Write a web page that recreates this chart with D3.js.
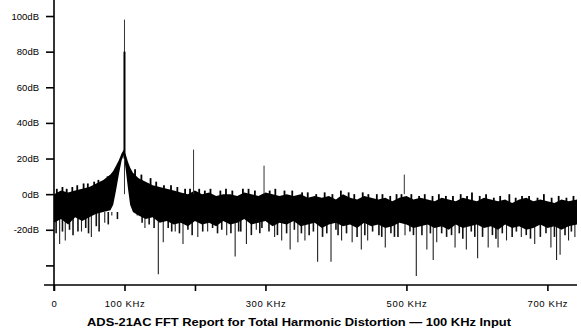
<!DOCTYPE html>
<html>
<head>
<meta charset="utf-8">
<script src="https://cdn.jsdelivr.net/npm/d3@7"></script>
<style>
  body { margin: 0; background: #fff; }
  svg { display: block; font-family: "Liberation Sans", Arial, sans-serif; }
</style>
</head>
<body>
<svg id="chart" width="581" height="328"></svg>
<script>
// noise floor band (KHz, dB)
const band_freq = [0, 10, 20, 30, 40, 50, 60, 70, 80, 84, 88, 92, 96, 99, 102, 105, 108, 112, 120, 130, 140, 150, 160, 170,
  180, 190, 200, 210, 220, 230, 240, 250, 260, 270, 280, 290, 300, 310, 320, 330, 340, 350, 360, 370, 380, 390,
  400, 410, 420, 430, 440, 450, 460, 470, 480, 490, 500, 510, 520, 530, 540, 550, 560, 570, 580, 590,
  600, 610, 620, 630, 640, 650, 660, 670, 680, 690, 700, 710, 720, 730, 742]
const band_top = [0, 2, 1, 2, 3, 4, 6, 8, 11, 13, 16, 19, 23, 25, 22, 18, 15, 12, 9, 7, 5, 4, 3, 2,
  1, 0, 2, 0, 1, -1, 0, 0, -1, 1, 0, -1, 1, 0, -1, 0, -1, 0, -2, -1, -2, -1,
  -3, 0, -2, -3, -1, -2, -3, -2, -4, -2, -1, -3, -2, -3, -4, -2, -3, -4, -2, -3,
  -4, -2, -3, -4, -3, -5, -3, -2, -4, -3, -4, -5, -3, -4, -3]
const band_bottom = [-16, -14, -17, -13, -15, -13, -11, -10, -9, -6, 2, 11, 19, 22, 13, 3, -6, -10, -12, -14, -13, -16, -15, -17,
  -16, -18, -15, -17, -16, -18, -15, -17, -16, -14, -17, -16, -15, -18, -16, -17, -15, -18, -17, -16, -19, -17,
  -16, -18, -17, -19, -16, -18, -17, -19, -18, -16, -17, -19, -18, -17, -19, -18, -20, -17, -19, -18,
  -17, -19, -18, -20, -17, -19, -18, -20, -19, -17, -19, -18, -20, -18, -17]

// small upward tips along the top of the band (KHz, dB)
const tip_freq = [4, 12, 18, 26, 33, 42, 48, 57, 63, 76, 115, 124, 137, 145, 156, 166, 175, 186, 193, 206, 214, 222, 236,
  244, 253, 268, 276, 285, 306, 314, 327, 338, 352, 360, 372, 384, 395, 407, 418, 426, 438, 446, 458, 466, 477, 486,
  493, 507, 518, 526, 537, 546, 556, 566, 577, 586, 593, 604, 613, 624, 633, 646, 655, 664, 674, 686, 695, 706, 716, 727, 737]
const tip_db = [3, 4, 3, 4, 5, 6, 6, 7, 8, 10, 14, 11, 9, 7, 5, 5, 4, 3, 3, 3, 2, 3, 2,
  3, 2, 3, 3, 2, 2, 3, 2, 2, 1, 1, 0, 1, 0, 2, 1, 0, 1, 0, 0, 0, -1, 0,
  0, 0, -1, 0, -1, 0, -1, -1, 0, -1, 1, -1, 0, -2, -1, 0, -2, -1, -1, -2, 0, -2, -1, -2, -1]

// downward dropouts below the band (KHz, dB)
const dip_freq = [8, 16, 39, 53, 72, 82, 118, 129, 148, 155, 172, 183, 204, 218, 245, 257, 273, 287, 313, 323, 335, 346,
  356, 374, 393, 408, 423, 436, 445, 470, 498, 514, 529, 538, 543, 569, 585, 601, 616, 630, 642, 663, 682, 705, 713, 718, 730, 739]
const dip_db = [-28, -26, -21, -24, -16, -12, -12, -19, -45, -27, -21, -28, -24, -21, -23, -35, -28, -20, -24, -26, -31, -27,
  -26, -38, -38, -26, -27, -31, -26, -30, -23, -46, -31, -37, -27, -30, -31, -36, -30, -30, -26, -24, -28, -30, -37, -34, -26, -24]

// shorter dropouts that make the ragged lower edge
const short_freq = [3, 12, 22, 27, 34, 45, 49, 60, 64, 77, 90, 125, 135, 142, 162, 167, 178, 190, 196, 211, 225, 232, 238,
  251, 262, 265, 280, 292, 295, 305, 317, 330, 341, 351, 362, 368, 381, 387, 400, 403, 415, 430, 441, 452, 461, 465,
  478, 483, 488, 505, 510, 522, 534, 550, 557, 564, 575, 580, 592, 597, 608, 622, 627, 636, 650, 656, 670, 676,
  690, 698, 710, 725, 734]
const short_db = [-22, -21, -20, -23, -21, -19, -22, -18, -21, -17, -14, -16, -17, -19, -19, -21, -22, -20, -23, -21, -19, -22, -20,
  -22, -21, -21, -23, -22, -19, -21, -23, -22, -20, -22, -23, -21, -24, -22, -20, -23, -22, -24, -23, -21, -23, -24,
  -22, -24, -24, -21, -23, -23, -22, -22, -24, -23, -22, -25, -21, -24, -24, -23, -25, -22, -24, -21, -23, -25,
  -24, -22, -24, -23, -21]

// upward tones: fundamental and harmonics
const tone_freq = [100, 198, 298, 497]
const tone_db = [98, 25, 16, 11]
const fundamental_core_db = 80

const y_ticks = [100, 80, 60, 40, 20, 0, -20, -40]
const x_ticks = [0, 100, 200, 300, 500, 700]
const title = "ADS-21AC FFT Report for Total Harmonic Distortion \u2014 100 KHz Input"

const svg = d3.select("#chart")
const x = d3.scaleLinear().domain([0, 742]).range([54, 577])
const y = d3.scaleLinear().domain([-51, 109]).range([285, 0])

const band = band_freq.map((f, i) => ({f: f, top: band_top[i], bottom: band_bottom[i]}))

// dropouts first so the band sits over their roots
svg.append("g")
  .selectAll("line")
  .data(dip_freq.map((f, i) => ({f: f, db: dip_db[i]})))
  .join("line")
  .attr("x1", d => x(d.f)).attr("x2", d => x(d.f))
  .attr("y1", y(-10)).attr("y2", d => y(d.db))
  .attr("stroke", "#222").attr("stroke-width", 1.1)

svg.append("g")
  .selectAll("line")
  .data(short_freq.map((f, i) => ({f: f, db: short_db[i]})))
  .join("line")
  .attr("x1", d => x(d.f)).attr("x2", d => x(d.f))
  .attr("y1", y(-10)).attr("y2", d => y(d.db))
  .attr("stroke", "#111").attr("stroke-width", 1.6)

svg.append("g")
  .selectAll("line")
  .data(tip_freq.map((f, i) => ({f: f, db: tip_db[i]})))
  .join("line")
  .attr("x1", d => x(d.f)).attr("x2", d => x(d.f))
  .attr("y1", d => y(d.db - 6)).attr("y2", d => y(d.db))
  .attr("stroke", "#000").attr("stroke-width", 1.8)

svg.append("path")
  .datum(band)
  .attr("d", d3.area().x(d => x(d.f)).y0(d => y(d.bottom)).y1(d => y(d.top)))
  .attr("fill", "#000")

svg.append("g")
  .selectAll("line")
  .data(tone_freq.map((f, i) => ({f: f, db: tone_db[i]})))
  .join("line")
  .attr("x1", d => x(d.f)).attr("x2", d => x(d.f))
  .attr("y1", y(0)).attr("y2", d => y(d.db))
  .attr("stroke", "#333").attr("stroke-width", 1)

svg.append("line")
  .attr("x1", x(tone_freq[0])).attr("x2", x(tone_freq[0]))
  .attr("y1", y(20)).attr("y2", y(fundamental_core_db))
  .attr("stroke", "#000").attr("stroke-width", 2)

// axes
const y_axis = svg.append("g")
  .attr("transform", "translate(54,0)")
  .call(d3.axisLeft(y).tickValues(y_ticks).tickSize(8).tickPadding(7)
    .tickFormat(d => d === -40 ? "" : d + "dB"))
y_axis.select(".domain").remove()
y_axis.selectAll("line").attr("stroke-width", 1.6)
y_axis.selectAll("text").attr("font-size", "9.5px").attr("fill", "#000")

const x_axis = svg.append("g")
  .attr("transform", "translate(0,285)")
  .call(d3.axisBottom(x).tickValues(x_ticks).tickSize(6).tickPadding(9)
    .tickFormat(d => d === 0 ? "0" : d === 200 ? "" : d + " KHz"))
x_axis.select(".domain").remove()
x_axis.selectAll("line").attr("stroke-width", 1.6)
x_axis.selectAll("text").attr("font-size", "9.5px").attr("letter-spacing", "0.6px").attr("fill", "#000")

svg.append("line")
  .attr("x1", 54).attr("x2", 54).attr("y1", 0).attr("y2", 291)
  .attr("stroke", "#000").attr("stroke-width", 1.6)
svg.append("line")
  .attr("x1", 44).attr("x2", 577).attr("y1", 285).attr("y2", 285)
  .attr("stroke", "#000").attr("stroke-width", 1.4)

svg.append("text")
  .attr("x", 299).attr("y", 326)
  .attr("text-anchor", "middle")
  .attr("font-size", "11.5px")
  .attr("font-weight", "bold")
  .attr("textLength", 424)
  .attr("lengthAdjust", "spacingAndGlyphs")
  .text(title)
</script>
</body>
</html>
